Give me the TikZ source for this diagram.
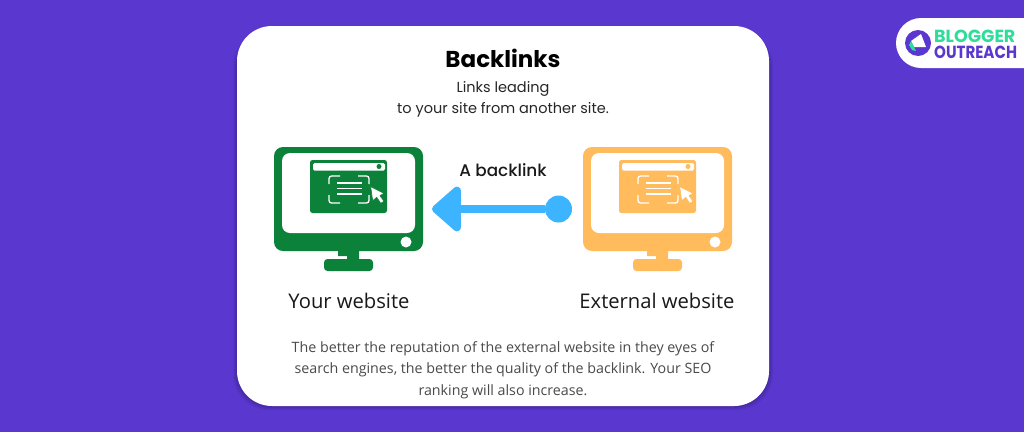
\documentclass[tikz,border=0pt]{standalone}
\usepackage{fontspec}
\usepackage{xcolor}
\usetikzlibrary{arrows.meta}
\newfontfamily\popfont{Poppins}
\newfontfamily\popmedfont{Poppins Medium}
\newfontfamily\opfont{Open Sans}
\definecolor{bgpurple}{HTML}{5A37CF}
\definecolor{sitegreen}{HTML}{0B8139}
\definecolor{siteorange}{HTML}{FFBB5C}
\definecolor{linkblue}{HTML}{3DB4FF}
\definecolor{logogreen}{HTML}{2EDD9A}
\definecolor{bodygray}{HTML}{4A4A4A}
\tikzstyle{heading}=[font=\popfont\bfseries\fontsize{23}{27}\selectfont,text=black]
\tikzstyle{subline}=[font=\popfont\fontsize{14.5}{21}\selectfont,text=black!85,align=center]
\tikzstyle{sitename}=[font=\opfont\fontsize{20.2}{24}\selectfont,text=black!90]
\tikzstyle{bodytext}=[font=\opfont\fontsize{14.25}{21.6}\selectfont,text=bodygray,align=center]
\tikzstyle{linkname}=[font=\popmedfont\fontsize{16.8}{20}\selectfont,text=black!90]
\tikzstyle{linkline}=[draw=linkblue,line width=8pt,-{Triangle[length=31pt,width=52pt,round]}]
\tikzstyle{logoword}=[font=\popfont\bfseries\fontsize{17.5}{18}\selectfont,inner sep=0pt]
% #1 xshift, #2 colour, #3 name
\def\monitor#1#2#3{
  \begin{scope}[xshift=#1pt]
    \node[fill=#2,rounded corners=9pt,minimum width=149pt,minimum height=104pt,inner sep=0pt] (#3) at (348.5,199) {};
    \fill[white,rounded corners=8pt] (282,153) rectangle (415,233);
    \fill[white] (406,242) circle (5.5);
    \fill[#2] (338,250) -- (359,250) -- (359,260) -- (347,260) -- (347,256) -- (338,256) -- cycle;
    \fill[#2,rounded corners=3.5pt] (324,259) rectangle (373,271);
    \fill[#2,rounded corners=2.5pt] (310,160) rectangle (387,213);
    \fill[white,rounded corners=1.5pt] (313,163) rectangle (385,170.5);
    \fill[#2] (379,166.5) circle (2.5);
    \draw[white,line width=1.3pt,rounded corners=2.5pt]
      (340,176) -- (329,176) -- (329,184)
      (329,195) -- (329,203) -- (340,203)
      (358,176) -- (369,176) -- (369,184)
      (369,195) -- (369,203) -- (358,203);
    \foreach \y in {183,188.5,194}
      \draw[white,line width=1.3pt] (337,\y) -- (362,\y);
    \fill[white,draw=#2,line width=.6pt] (370.7,186.7) -- (372.7,200.7) -- (376.7,197.3) -- (380.7,203.3) -- (384,201.3) -- (380,195.7) -- (384,193.3) -- cycle;
  \end{scope}
}
\begin{document}
\begin{tikzpicture}[x=1pt,y=-1pt]
  \useasboundingbox[fill=bgpurple] (0,0) rectangle (1024,432);
  % card with soft shadow
  \foreach \g in {4,3,2,1}
    \fill[black,opacity=.05,rounded corners=36pt] (237-\g,34-\g) rectangle (769+\g,406+\g);
  \node[fill=white,rounded corners=35pt,minimum width=532pt,minimum height=380pt,inner sep=0pt] (card) at (503,216) {};
  \node[heading] (title) at (503,58) {Backlinks};
  \node[subline] (lead) at (503,99) {Links leading\\to your site from another site.};
  % the two screens
  \monitor{0}{sitegreen}{yourscreen}
  \monitor{309}{siteorange}{extscreen}
  \node[sitename,below=0pt] (yourname) at (349,289.5) {Your website};
  \node[sitename,below=0pt] (extname) at (657,289.5) {External website};
  % link
  \node[linkname] (linklabel) at (503,170) {A backlink};
  \node[circle,fill=linkblue,minimum size=27pt,inner sep=0pt] (linkdot) at (558.5,209) {};
  \coordinate (linktip) at (432,209);
  \draw[linkline] (linkdot) -- (linktip);
  \node[bodytext] (body) at (503,370) {The better the reputation of the external website in they eyes of\\search engines, the better the quality of the backlink. Your SEO\\ranking will also increase.};
  % logo
  \node[fill=white,rounded corners=25pt,minimum width=170pt,minimum height=50pt,inner sep=0pt] (logopill) at (981,43) {};
  \fill[bgpurple] (1024,17) rectangle (1070,69);
  \node[circle,fill=bgpurple,minimum size=26pt,inner sep=0pt] (logodot) at (918,43) {};
  \fill[white] (911,41) -- (921,34) -- (926,47) -- (914,47) -- cycle;
  \fill[logogreen] (911,41) -- (914,47) -- (916,51) -- (912,50) -- (909,45) -- cycle;
  \node[logoword,text=logogreen,anchor=west] (logotop) at (934,36) {BLOGGER};
  \node[logoword,text=bgpurple,anchor=west,xscale=.86] (logobot) at (934,52) {OUTREACH};
\end{tikzpicture}
\end{document}
